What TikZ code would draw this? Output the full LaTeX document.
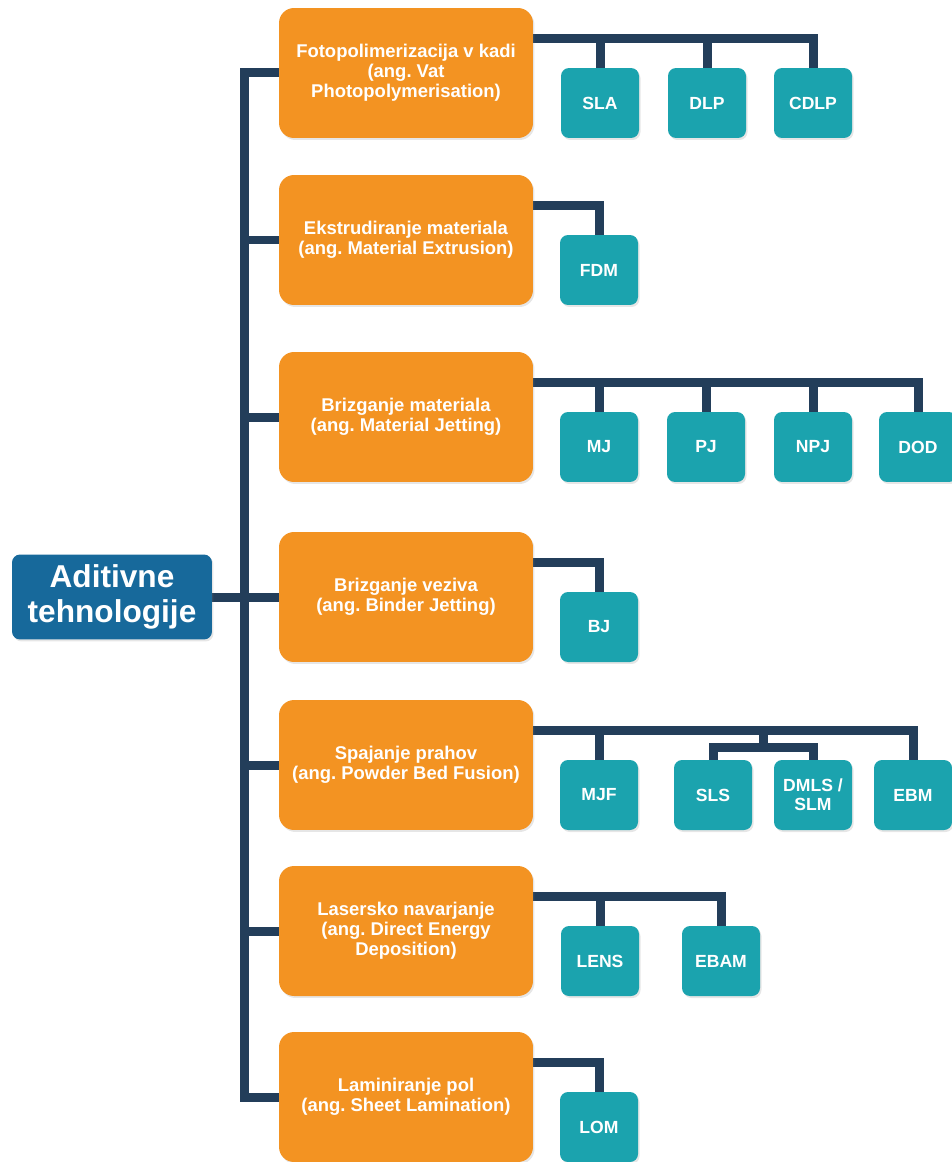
\documentclass[tikz,border=0pt]{standalone}
\usepackage{fontspec}
\setmainfont{Liberation Sans}
\frenchspacing
\usetikzlibrary{positioning,backgrounds,calc,shadows}
\definecolor{narancna}{HTML}{F39322}
\definecolor{turkizna}{HTML}{1BA3AE}
\definecolor{temnomodra}{HTML}{233E5A}
\definecolor{modra}{HTML}{17699B}
\tikzset{
  senca/.style={drop shadow={opacity=0.2,shadow xshift=0.03cm,shadow yshift=-0.04cm}},
  koren/.style={rounded corners=0.16cm,fill=modra,text=white,senca,
    font=\bfseries\fontsize{18}{19.8}\selectfont,align=center,
    minimum width=4cm,minimum height=1.7cm,inner sep=1pt},
  skupina/.style={rounded corners=0.3cm,fill=narancna,text=white,senca,
    font=\bfseries\fontsize{10.5}{11.3}\selectfont,align=center,
    minimum width=5.08cm,minimum height=2.6cm,inner sep=1pt},
  postopek/.style={rounded corners=0.16cm,fill=turkizna,text=white,senca,
    font=\bfseries\fontsize{10}{11}\selectfont,align=center,
    minimum width=1.56cm,minimum height=1.4cm,inner sep=1pt},
  povezava/.style={draw=temnomodra,line width=0.18cm},
}
\begin{document}
\begin{tikzpicture}[x=0.02cm,y=-0.02cm]
\useasboundingbox (0,0) rectangle (952,1162);
%% koren
\node[koren] (root) at (112,597) {Aditivne\\tehnologije};
%% skupine
\node[skupina] (o1) at (406,73)   {Fotopolimerizacija v kadi\\(ang. Vat\\Photopolymerisation)};
\node[skupina] (o2) at (406,240)  {Ekstrudiranje materiala\\(ang. Material Extrusion)};
\node[skupina] (o3) at (406,417)  {Brizganje materiala\\(ang. Material Jetting)};
\node[skupina] (o4) at (406,597)  {Brizganje veziva\\(ang. Binder Jetting)};
\node[skupina] (o5) at (406,765)  {Spajanje prahov\\(ang. Powder Bed Fusion)};
\node[skupina] (o6) at (406,931)  {Lasersko navarjanje\\(ang. Direct Energy\\Deposition)};
\node[skupina] (o7) at (406,1097) {Laminiranje pol\\(ang. Sheet Lamination)};
%% postopki
\node[postopek] (sla)  at (600,103)  {SLA};
\node[postopek] (dlp)  at (707,103)  {DLP};
\node[postopek] (cdlp) at (813,103)  {CDLP};
\node[postopek] (fdm)  at (599,270)  {FDM};
\node[postopek] (mj)   at (599,447)  {MJ};
\node[postopek] (pj)   at (706,447)  {PJ};
\node[postopek] (npj)  at (813,447)  {NPJ};
\node[postopek] (dod)  at (918,447)  {DOD};
\node[postopek] (bj)   at (599,627)  {BJ};
\node[postopek] (mjf)  at (599,795)  {MJF};
\node[postopek] (sls)  at (713,795)  {SLS};
\node[postopek] (dmls) at (813,795)  {DMLS /\\SLM};
\node[postopek] (ebm)  at (913,795)  {EBM};
\node[postopek] (lens) at (600,961)  {LENS};
\node[postopek] (ebam) at (721,961)  {EBAM};
\node[postopek] (lom)  at (599,1127) {LOM};
%% povezave
\begin{scope}[on background layer]
\coordinate (t) at (244,0);
\draw[povezava] (o1.west) -| (o7.west -| t) -- (o7.west);
\foreach \o in {o2,o3,o4,o5,o6}
  \draw[povezava] (\o.west -| t) -- (\o.west);
\draw[povezava] (root.east) -- (root.east -| o4.west);
%% vrstica 1
\coordinate (b1) at ([yshift=-0.62cm]o1.north east);
\draw[povezava] (b1) -| (cdlp.north);
\foreach \n in {sla,dlp}
  \draw[povezava] (\n.north) -- (\n.north |- b1);
%% vrstica 2
\draw[povezava] ([yshift=-0.62cm]o2.north east) -| (fdm.north);
%% vrstica 3
\coordinate (b3) at ([yshift=-0.62cm]o3.north east);
\draw[povezava] (b3) -| (dod.north);
\foreach \n in {mj,pj,npj}
  \draw[povezava] (\n.north) -- (\n.north |- b3);
%% vrstica 4
\draw[povezava] ([yshift=-0.62cm]o4.north east) -| (bj.north);
%% vrstica 5
\coordinate (b5) at ([yshift=-0.62cm]o5.north east);
\draw[povezava] (b5) -| (ebm.north);
\draw[povezava] (mjf.north) -- (mjf.north |- b5);
\coordinate (s5) at ($(sls.north)!.5!(dmls.north)+(0,0.24cm)$);
\draw[povezava] (s5 |- b5) -- (s5);
\draw[povezava] (sls.north) |- (s5) -| (dmls.north);
%% vrstica 6
\coordinate (b6) at ([yshift=-0.62cm]o6.north east);
\draw[povezava] (b6) -| (ebam.north);
\draw[povezava] (lens.north) -- (lens.north |- b6);
%% vrstica 7
\draw[povezava] ([yshift=-0.62cm]o7.north east) -| (lom.north);
\end{scope}
\end{tikzpicture}
\end{document}
